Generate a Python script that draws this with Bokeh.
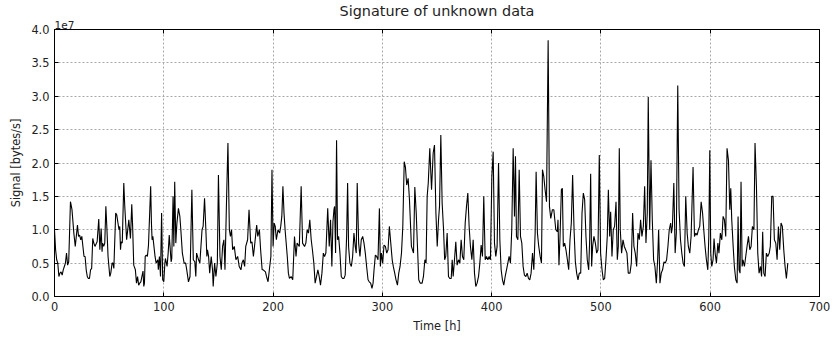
import numpy as np
from bokeh.plotting import figure
from bokeh.models import (Range1d, FixedTicker, CustomJSTickFormatter, LinearAxis, Title,
                          ColumnDataSource)
from bokeh.embed import file_html
from bokeh.resources import INLINE

# ---- data: time in hours, signal in units of 1e6 bytes/s ----
t1 = [0, 1, 2, 3, 4, 5, 6, 7, 8, 9, 10, 11, 12, 13, 14.6, 16, 17.7, 19, 21, 22, 23, 24, 25, 26, 27, 28, 29, 30,
      31, 32, 33, 34, 35, 36, 37, 39, 40.5, 41.5, 42.7, 43.5, 44, 45, 46, 47, 48, 49, 50.6, 51.5, 52.7, 53.5,
      54.3, 56, 57, 59, 59.7, 60.4, 61, 62, 63.4, 64.3, 66, 67, 68, 69.5, 70.7, 71.5, 72.5, 74, 75, 76, 77, 78,
      79, 80, 81, 81.7, 82.3, 83, 84, 85, 86, 88, 88.7, 89.3, 90, 92, 93, 94.5, 95, 96, 97, 98, 99, 100, 101,
      101.5, 103, 104, 105, 106.7, 107.3, 108.5, 109.2, 110, 111, 112, 113.4, 114.7, 115.6, 117]
s1 = [10, 7, 5.5, 5, 3, 3.5, 3.7, 3.2, 4, 4.5, 5, 6.5, 4.7, 5.2, 14.2, 13, 9.5, 7.5, 10.7, 9, 9.2, 8.5, 9, 7.5,
      6, 6, 4, 3, 2.7, 2.7, 4, 4.2, 8.7, 8, 7.5, 8.2, 11.6, 7, 10.2, 6.7, 8, 7.5, 8, 13.5, 10, 6, 3, 3.5, 5, 5,
      4.2, 12.5, 12.2, 10, 10.5, 7, 8.2, 8, 17, 13.5, 8.5, 10, 11.5, 8.7, 13.8, 10.5, 4.7, 4, 2, 3, 1.7, 2,
      2.2, 3, 3.8, 1.5, 2, 6, 6.2, 6, 7.7, 16.5, 11, 8.5, 9, 6, 5, 5.5, 4, 6, 3, 12.5, 2.5, 2.2, 5, 5.7, 4.5,
      6.5, 9.2, 5.2, 5.7, 15, 7.5, 17.2, 8, 11, 13.2, 12, 10, 6.5]

t2 = [118.6, 120, 121, 122.6, 124, 125.7, 127, 128.4, 129.3, 130, 131.8, 133, 135, 136, 137.3, 138.5, 139.4,
      140, 141, 142, 143.4, 144.6, 145.2, 146.5, 147.7, 149, 150, 151.4, 152.6, 153.8, 155, 156, 157.5, 158.7,
      160, 161, 162, 163, 164.5, 166, 167.6, 169, 170.6, 171.5, 172.8, 174, 175, 176.7, 178, 179.5, 180.7,
      182, 183, 185, 186, 187.5, 188.6, 190, 191, 193, 194, 195.4, 196.6, 198, 199, 200, 201, 202, 203,
      204.5, 206, 207, 208, 209, 210, 211, 213, 214, 215, 216.5, 218, 219.6, 221, 222, 224, 225.7]
s2 = [5, 5, 4, 2.2, 3, 16, 5.5, 5.2, 3, 6.5, 5.5, 5, 10, 10.5, 14.7, 10, 6, 7, 6, 3.5, 6, 4, 1.5, 5, 3, 5,
      18.2, 6, 4, 7.5, 8.5, 4, 15, 23, 10, 9, 10, 7, 7.5, 5.5, 6, 4.5, 4, 5, 5.5, 4.5, 7.5, 8.5, 13, 8, 8.2,
      6, 7.5, 10.7, 9, 10, 7, 4, 4, 3.7, 3, 2.2, 4, 6, 19, 7.5, 11, 10.5, 8.5, 10, 9.5, 10.5, 12, 16.5, 12.5,
      10, 6, 3.5, 2.7, 3, 2.5, 9, 6, 8, 7.5, 16.5]

t3 = [227, 228.8, 230, 231.2, 232.4, 233.6, 234.9, 236, 237.3, 238.5, 239.8, 241, 242.2, 243.4, 244.7, 246,
      247.1, 248.3, 250, 251.4, 252.6, 253.8, 254.8, 255.7, 256.3, 257.2, 258.1, 259, 260, 261.2, 262.4,
      263.6, 264.8, 266, 267.3, 268.2, 269.1, 270.3, 271.6, 272.8, 274, 275.2, 276.1, 277, 278.3, 279.5,
      280.7, 282, 283.2, 284.4, 285.6, 286.9, 288, 289.3, 290.5, 291.5, 292.4, 293.6, 294.8, 296, 297.3,
      298.2, 299.1, 300.3, 301.5, 302.8, 304, 305.2, 306.4, 307.7, 309, 310, 311.3, 312.5, 313.8, 315,
      316.2, 317.5, 318.7, 320, 321.1, 322.3, 323.6, 324.8, 326.6, 328.5, 329.7, 331, 332, 333.3, 334.6,
      336.4, 337.6, 338.9, 340]
s3 = [8, 7.5, 8, 10, 9.5, 11.5, 8.5, 7, 5, 2, 3, 4, 3, 1.7, 3.5, 6.5, 6, 6.5, 13.2, 7.5, 11.5, 4.5, 11.2, 13,
      13.5, 6.5, 23.4, 8.5, 9, 6.5, 3, 2.7, 2.7, 3.2, 9, 17, 7.5, 5, 4.5, 6, 9.5, 7.5, 6.5, 17, 8, 6, 8.5, 9,
      8, 6.5, 4.5, 2.5, 2.2, 2, 1.2, 2, 4, 6.2, 6, 5.5, 13.2, 4.5, 6.5, 5, 7.7, 7.5, 6.5, 7, 10.5, 8, 5.5,
      4.5, 3.5, 2.5, 1.7, 3.5, 4.5, 6.5, 10.5, 20.2, 19.4, 16.7, 17.7, 14.5, 7.5, 6.5, 16.4, 12.5, 8, 2.5,
      2, 2, 3, 5.5, 5]

t4 = [341, 342, 343.4, 345, 346.5, 347.7, 349, 350.2, 351.4, 352.3, 353.5, 354.7, 356, 357, 358, 359.3,
      360.5, 361.7, 363, 363.9, 364.8, 366, 367.2, 368.4, 369.7, 370.9, 372.1, 373.3, 374.5, 375.8, 377,
      378.2, 379.4, 380.6, 381.9, 383.1, 384.3, 385.5, 386.7, 388, 389.2, 390.4, 391.6, 392.8, 394.1, 395.3,
      396.5, 397.7, 398.9, 400.2, 401.4, 402.6, 403.8, 405, 406.3, 407.5, 408.7, 409.9, 411.1, 412.4, 413.6,
      414.8, 416, 417.2, 418.4, 419.7, 420.9, 421.8, 422.7, 424, 425.2, 426.4, 427.6, 428.8, 430, 431.3,
      432.5, 433.7, 434.9, 436.1, 437.4, 438.6, 439.8, 440.7, 441.9, 443.1, 444.4, 445.6, 446.5, 447.7,
      448.9, 450.2, 451.7, 452.9, 454.1, 455.6, 456.9, 458.7]
s4 = [15, 17, 22.2, 16, 21.5, 22.7, 12.5, 7.5, 11.5, 13.5, 24.2, 14, 10, 5.5, 6, 9.5, 3, 2.7, 2.7, 5.5, 3,
      5.5, 8.2, 4.7, 5.5, 5, 8.5, 6, 5.5, 11, 13.5, 15.5, 10.5, 7.5, 5.5, 8.5, 3.5, 1.5, 2, 3, 5, 7.7, 6, 15,
      5.5, 6, 5.5, 6, 5.5, 18, 21.7, 8, 6, 7.5, 20, 8.5, 4, 2.5, 1.7, 3, 4, 5, 6, 5, 10, 22.2, 12, 21, 9, 8.5,
      19, 9, 8, 4.5, 3.2, 3, 3.5, 2.7, 2.5, 3.5, 6.5, 4, 9.5, 18.7, 9.5, 7.5, 6, 5, 19, 18, 16, 14.2, 38.4,
      13.5, 11.7, 13, 13, 10]

t5 = [460.1, 460.7, 461.6, 462.5, 463.8, 464.7, 465.6, 466.8, 468, 469.3, 470.5, 471.7, 472.9, 474.1, 475.4,
      476.6, 477.8, 479, 480.2, 481.5, 482.7, 483.9, 485.1, 486.3, 487.5, 488.8, 489.7, 490.6, 491.5, 492.4,
      493.6, 494.9, 496.1, 497.3, 498.5, 499.7, 501, 502.2, 503.4, 504.6, 505.8, 506.8, 508, 508.9, 510.1,
      511.3, 512.5, 513.8, 515, 515.9, 516.8, 517.7, 518.9, 520.2, 521.4, 522.6, 523.8, 525, 526.6, 527.8,
      529, 530.2, 531.4, 532.7, 533.9, 535.1, 536.3, 537.5, 538.8, 540, 541.2, 542.4, 543.3, 544.6, 545.8,
      547, 548.2, 549.4, 550.7, 551.9, 552.8, 554, 555.2, 556.4, 557.7, 558.9, 560.1, 561.3, 562.5]
s5 = [9.7, 11.5, 4.7, 8.5, 16, 16.2, 7.5, 8, 7, 5.5, 4, 8.5, 11, 18.2, 10, 5.2, 3.5, 2.5, 3.5, 3.5, 12.5,
      15.5, 14.5, 9, 5.5, 4, 8.5, 18.4, 4.5, 7.5, 9, 8, 6.5, 7, 21.2, 6.5, 4, 2.5, 2.7, 5.5, 9, 16, 9, 12.7,
      6, 10, 10.5, 14.2, 5.5, 7.5, 22.2, 10, 6.5, 8.5, 7.5, 7, 6.5, 3.5, 3.5, 5, 12.5, 7.5, 6.5, 4.5, 9.5,
      8.5, 11.5, 9, 10.5, 16.5, 8, 12.5, 29.9, 10, 20.4, 11.5, 5.5, 4.5, 2, 5.5, 10, 2, 3.5, 4, 5.2, 5, 5.5,
      7.5, 10]

t6 = [563.8, 564.5, 565.4, 566.7, 567.9, 569, 570.3, 571.5, 572.8, 574, 575.2, 576.4, 577.6, 578.9, 580,
      581.3, 582.5, 584.3, 585.6, 586.8, 588, 589.2, 590.4, 591.7, 593, 594.1, 595.3, 596.5, 597.8, 598.7,
      599.6, 600.5, 601.4, 602.6, 603.5, 604.5, 605.7, 607, 608, 609.3, 610.6, 611.8, 613, 614.2, 615.4,
      616.7, 617.9, 618.8, 619.7, 621, 622.1, 623.4, 624.6, 625.5, 626.4, 627.3, 628.2, 629.2, 630, 631.3,
      632.5, 633.7, 635, 636.2, 637.4, 638.6, 640, 641, 642.3, 643.5, 644.7, 646, 647, 648, 649, 650.2,
      651.4, 652.6, 654, 655, 656.3, 657.5, 658.7, 660, 661.2, 662.4, 663.6, 664.8, 666, 667.3, 668.5,
      669.7, 671]
s6 = [11, 9.5, 10.5, 17, 6.5, 9.5, 31.6, 13, 8.5, 6.5, 5, 4.5, 15, 9.5, 7.5, 6.5, 9, 19.4, 9, 9.5, 9.2, 10,
      10.5, 14.2, 12.5, 10, 7.5, 5.5, 4, 9, 21.9, 6.5, 4.5, 5.5, 8.7, 6.5, 5, 8, 6.5, 9.5, 8.5, 12, 11.5, 9,
      22.2, 20.4, 13, 16.2, 11.5, 7.5, 4.5, 2.5, 2, 12, 4, 3.5, 17.2, 4.5, 5.5, 4.5, 6, 7.5, 9, 7, 7.5, 10.5,
      10, 23, 16.5, 6.5, 3.5, 4.5, 3, 9.7, 3.5, 3, 6.5, 6, 6.5, 7.5, 15, 15, 8.5, 8, 5.5, 10.5, 7, 11, 10.5,
      7, 4.5, 2.7, 5]

x_ticks = [0, 100, 200, 300, 400, 500, 600, 700]
y_ticks_1e7 = [0.0, 0.5, 1.0, 1.5, 2.0, 2.5, 3.0, 3.5, 4.0]

for a, b in [(t1, s1), (t2, s2), (t3, s3), (t4, s4), (t5, s5), (t6, s6)]:
    assert len(a) == len(b), (len(a), len(b), a[0])

time_h = t1 + t2 + t3 + t4 + t5 + t6
signal = np.array(s1 + s2 + s3 + s4 + s5 + s6) * 1e6

FONT = "DejaVu Sans"
TXT = "#222222"
TICK_FS = "11.4px"

p = figure(width=833, height=337, output_backend="svg", toolbar_location=None,
           x_range=Range1d(0, 700), y_range=Range1d(0, 4e7),
           min_border_left=54, min_border_right=14, min_border_top=29, min_border_bottom=41,
           title="Signature of unknown data", background_fill_color="white",
           border_fill_color="white")

p.title.align = "center"
p.title.text_font = FONT
p.title.text_font_size = "14.4px"
p.title.text_font_style = "normal"
p.title.text_color = TXT
p.title.standoff = 0

src = ColumnDataSource(dict(t=time_h, s=signal))
p.line("t", "s", source=src, line_color="black", line_width=1.1)

yt = [v * 1e7 for v in y_ticks_1e7]
fmt_y = CustomJSTickFormatter(code="return (tick/1e7).toFixed(1)")

p.xaxis.ticker = FixedTicker(ticks=x_ticks)
p.yaxis.ticker = FixedTicker(ticks=yt)
p.yaxis.formatter = fmt_y
p.xaxis.axis_label = "Time [h]"
p.yaxis.axis_label = "Signal [bytes/s]"

for ax in [p.xaxis[0], p.yaxis[0]]:
    ax.major_tick_in = 4
    ax.major_tick_out = 0
    ax.minor_tick_line_color = None
    ax.axis_line_color = "black"
    ax.major_tick_line_color = "black"
    ax.major_label_text_font = FONT
    ax.major_label_text_font_size = TICK_FS
    ax.major_label_text_color = TXT
    ax.major_label_standoff = 5
    ax.axis_label_text_font = FONT
    ax.axis_label_text_font_size = TICK_FS
    ax.axis_label_text_font_style = "normal"
    ax.axis_label_text_color = TXT
    ax.axis_label_standoff = 5

empty = CustomJSTickFormatter(code="return ''")
right = LinearAxis(ticker=FixedTicker(ticks=yt), formatter=empty)
top = LinearAxis(ticker=FixedTicker(ticks=x_ticks), formatter=empty)
for ax in [right, top]:
    ax.major_tick_in = 4
    ax.major_tick_out = 0
    ax.minor_tick_line_color = None
    ax.axis_line_color = "black"
    ax.major_tick_line_color = "black"
    ax.major_label_standoff = 0
    ax.major_label_text_font_size = "1px"
p.add_layout(right, "right")
p.add_layout(top, "above")

# offset label "1e7" just above the top-left corner of the frame
p.add_layout(Title(text="1e7", align="left", text_font=FONT, text_font_size="10.5px",
                   text_font_style="normal", text_color=TXT, standoff=1), "above")

p.grid.grid_line_color = "#a8a8a8"
p.grid.grid_line_dash = "2 2"
p.grid.grid_line_width = 1
p.xgrid.ticker = FixedTicker(ticks=x_ticks)
p.ygrid.ticker = FixedTicker(ticks=yt)

p.outline_line_color = "black"
p.outline_line_width = 1

open("out.html", "w").write(file_html(p, INLINE))
